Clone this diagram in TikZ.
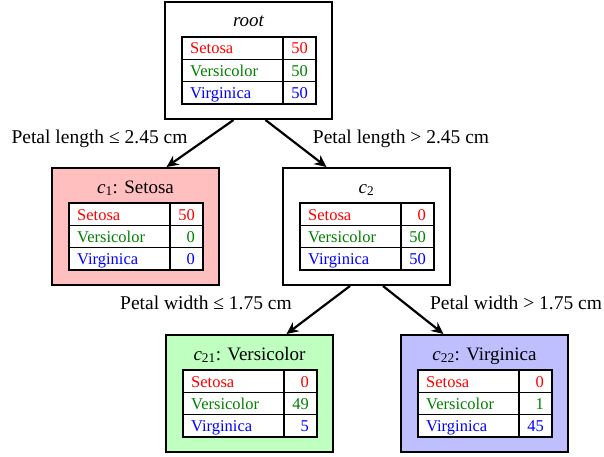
\documentclass[tikz,border=0pt]{standalone}
\usepackage{fontspec}
\setmainfont{Liberation Serif}
\usetikzlibrary{arrows.meta}

\definecolor{setred}{RGB}{255,0,0}
\definecolor{vergreen}{RGB}{0,128,0}
\definecolor{virblue}{RGB}{0,0,255}

\tikzset{
  treebox/.style={draw=black, line width=2pt, minimum width=167pt, minimum height=117pt, inner sep=0pt},
  boxtitle/.style={anchor=base, inner sep=0pt, font=\fontsize{19}{22}\selectfont},
  grid/.style={draw=black, line width=1.2pt},
  rowname/.style={anchor=base west, inner sep=0pt, font=\fontsize{16.5}{19}\selectfont},
  rowcount/.style={anchor=base east, inner sep=0pt, font=\fontsize{16.5}{19}\selectfont},
  split/.style={line width=2.2pt, -{Stealth[length=12pt,width=11pt]}},
  cond/.style={anchor=base, inner sep=0pt, font=\fontsize{19.5}{22}\selectfont},
}

% #1 name, #2 left x, #3 top y, #4 fill, #5 title, #6-#8 class counts
\newcommand\classbox[8]{%
  \node[treebox, fill=#4] (#1) at (#2+83.5,#3+58.5) {};
  \node[boxtitle] (#1-title) at (#2+83.5,#3+25) {#5};
  \draw[grid, fill=white] (#2+17,#3+35) rectangle (#2+151,#3+102);
  \draw[grid] (#2+17,#3+57.33) -- (#2+151,#3+57.33);
  \draw[grid] (#2+17,#3+79.67) -- (#2+151,#3+79.67);
  \draw[grid] (#2+118,#3+35) -- (#2+118,#3+102);
  \node[rowname, text=setred] (#1-n1) at (#2+25,#3+52) {Setosa};
  \node[rowname, text=vergreen] (#1-n2) at (#2+25,#3+74.33) {Versicolor};
  \node[rowname, text=virblue] (#1-n3) at (#2+25,#3+96.67) {Virginica};
  \node[rowcount, text=setred] (#1-c1) at (#2+143,#3+52) {#6};
  \node[rowcount, text=vergreen] (#1-c2) at (#2+143,#3+74.33) {#7};
  \node[rowcount, text=virblue] (#1-c3) at (#2+143,#3+96.67) {#8};
}

\begin{document}
\begin{tikzpicture}[x=1pt, y=-1pt]
  \useasboundingbox (0,0) rectangle (604,457);

  \classbox{root}{165}{2}{white}{\itshape root}{50}{50}{50}
  \classbox{c1}{52}{168}{red!25}{{\itshape c}\textsubscript{1}: Setosa}{50}{0}{0}
  \classbox{c2}{283}{168}{white}{{\itshape c}\textsubscript{2}}{0}{50}{50}
  \classbox{c21}{166}{335}{green!25}{{\itshape c}\textsubscript{21}: Versicolor}{0}{49}{5}
  \classbox{c22}{401}{335}{blue!25}{{\itshape c}\textsubscript{22}: Virginica}{0}{1}{45}

  % splits
  \draw[split] ([xshift=-15pt]root.south) -- ([xshift=31pt]c1.north);
  \draw[split] ([xshift=17pt]root.south) -- ([xshift=-40pt]c2.north);
  \draw[split] ([xshift=-16.5pt]c2.south) -- ([xshift=37pt]c21.north);
  \draw[split] ([xshift=16.5pt]c2.south) -- ([xshift=-41pt]c22.north);

  % split conditions
  \node[cond] (l1) at (99.5,143) {Petal length ≤ 2.45 cm};
  \node[cond] (l2) at (401,143) {Petal length > 2.45 cm};
  \node[cond] (l3) at (206,309) {Petal width ≤ 1.75 cm};
  \node[cond] (l4) at (516,309) {Petal width > 1.75 cm};
\end{tikzpicture}
\end{document}
